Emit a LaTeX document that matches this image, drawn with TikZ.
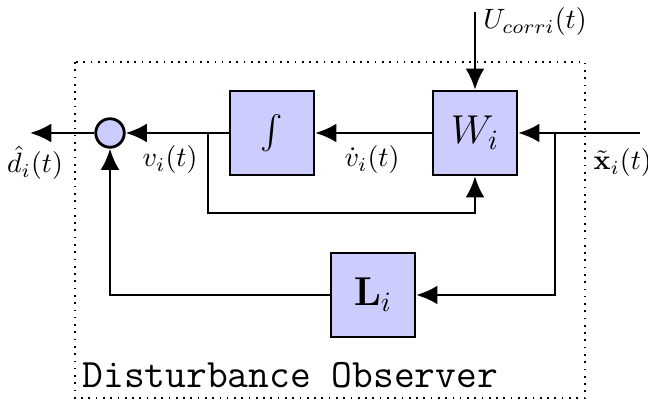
\documentclass[tikz,border=0pt]{standalone}
\usepackage{amsmath}
\usetikzlibrary{arrows.meta}
\begin{document}
\begin{tikzpicture}[x=0.3571pt,y=-0.3571pt,
  block/.style={draw,line width=0.85pt,fill=blue!20,minimum size=30pt,inner sep=0pt},
  sumnode/.style={circle,draw,line width=1pt,fill=blue!20,minimum size=10.2pt,inner sep=0pt},
  sig/.style={line width=1pt,-{Latex[length=7.6pt,width=6.8pt]}}]
\useasboundingbox (0,0) rectangle (648,403);
% observer frame
\draw[dotted,line width=0.6pt] (75,62) rectangle (585,398);
\node[anchor=base west,font=\Large\ttfamily,inner sep=0pt] (title) at (82,388) {Disturbance Observer};

% blocks
\node[sumnode] (sum) at (110,133) {};
\node[block] (int) at (272,133) {\large$\int$};
\node[block] (W) at (475,133) {\Large$W_i$};
\node[block] (L) at (373,295) {\Large$\mathbf{L}_i$};

% terminals and branch points
\coordinate (xin) at (640,133);
\coordinate (uin) at (475,12);
\coordinate (dout) at (30,133);
\coordinate (bx) at (555,133);
\coordinate (bv) at (208,133);
\coordinate (bvlow) at (208,213);

% signal flow
\draw[sig] (xin) -- (W);
\draw[sig] (bx) |- (L);
\draw[sig] (L) -| (sum);
\draw[sig] (int) -- (sum);
\draw[sig] (bv) -- (bvlow) -| (W);
\draw[sig] (W) -- (int);
\draw[sig] (uin) -- (W);
\draw[sig] (sum) -- (dout);

% signal labels
\node (lu) at (535,22) {$U_{corri}(t)$};
\node (ld) at (35,163) {$\hat{d}_i(t)$};
\node (lv) at (170,160) {$v_i(t)$};
\node (lvd) at (372,160) {$\dot{v}_i(t)$};
\node[anchor=west,inner sep=0pt] (lx) at (593,163) {$\tilde{\mathbf{x}}_i(t)$};
\end{tikzpicture}
\end{document}
